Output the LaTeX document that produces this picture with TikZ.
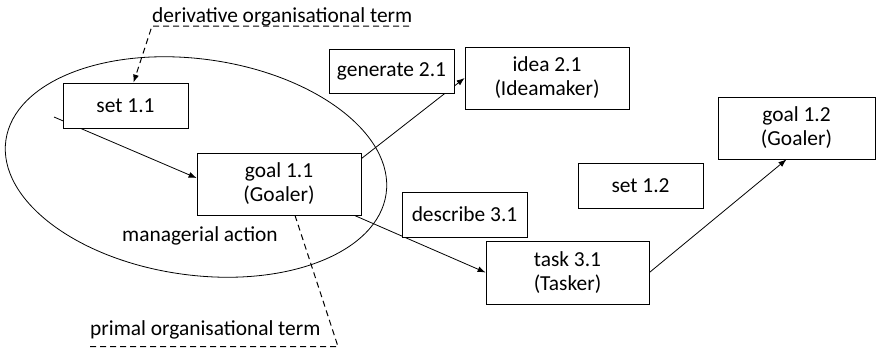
\documentclass[tikz,border=0pt]{standalone}
\usepackage{fontspec}
\setmainfont{Carlito}
\usetikzlibrary{arrows.meta,calc,backgrounds}
\begin{document}
\begin{tikzpicture}[x=1pt,y=-1pt,
  box/.style={draw,fill=white,line width=0.8pt,inner sep=0pt,align=center,
    font=\fontsize{21.4}{24}\selectfont},
  lbl/.style={inner sep=0pt,font=\fontsize{21.4}{24}\selectfont},
  conn/.style={line width=0.8pt,-{Latex[length=8pt,width=6pt]}},
  callout/.style={line width=1pt,dash pattern=on 6pt off 4pt}]
\useasboundingbox (0,0) rectangle (876,348);

\node[box,minimum width=125pt,minimum height=45pt] (set11) at (125.5,105.5) {set 1.1};
\node[box,minimum width=164pt,minimum height=62pt] (goal11) at (279,184) {goal 1.1\\(Goaler)};
\node[box,minimum width=125pt,minimum height=44pt] (gen21) at (391.5,71) {generate 2.1};
\node[box,minimum width=164pt,minimum height=62pt] (idea21) at (547,78) {idea 2.1\\(Ideamaker)};
\node[box,minimum width=157pt,minimum height=62pt] (goal12) at (796.5,128) {goal 1.2\\(Goaler)};
\node[box,minimum width=125pt,minimum height=45pt] (set12) at (640.5,185.5) {set 1.2};
\node[box,minimum width=125pt,minimum height=45pt] (desc31) at (464.5,214.5) {describe 3.1};
\node[box,minimum width=163pt,minimum height=63pt] (task31) at (567.5,272.5) {task 3.1\\(Tasker)};

\node[lbl,anchor=base west] (dterm) at (152,22) {derivative organisational term};
\node[lbl,anchor=base west] (pterm) at (90,335) {primal organisational term};
\node[lbl,anchor=base] (ma) at (200,241) {managerial action};

\coordinate (in) at (54,117);
\coordinate (d1) at (409,26);
\coordinate (d2) at (152,26);
\coordinate (p1) at (90,346.5);
\coordinate (p2) at (338,346.5);

\begin{scope}[on background layer]
  \draw[line width=0.8pt,rotate around={-8:(196,167)}] (196,167) ellipse [x radius=192, y radius=108];
  \draw[conn] (in) -- ($(goal11.west)+(0,-6)$);
  \draw[conn] ($(goal11.north east)+(0,6)$) -- (idea21.west);
  \draw[conn] ($(goal11.south east)+(-7,0)$) -- (task31.west);
  \draw[conn] (task31.east) -- ($(goal12.south)+(-10,0)$);
  \draw[callout,-{Latex[length=8pt,width=6pt]}] (d1) -- (d2) -- ($(set11.north)+(8,0)$);
  \draw[callout] (p1) -- (p2) -- ($(goal11.south)+(16,0)$);
\end{scope}
\end{tikzpicture}
\end{document}
